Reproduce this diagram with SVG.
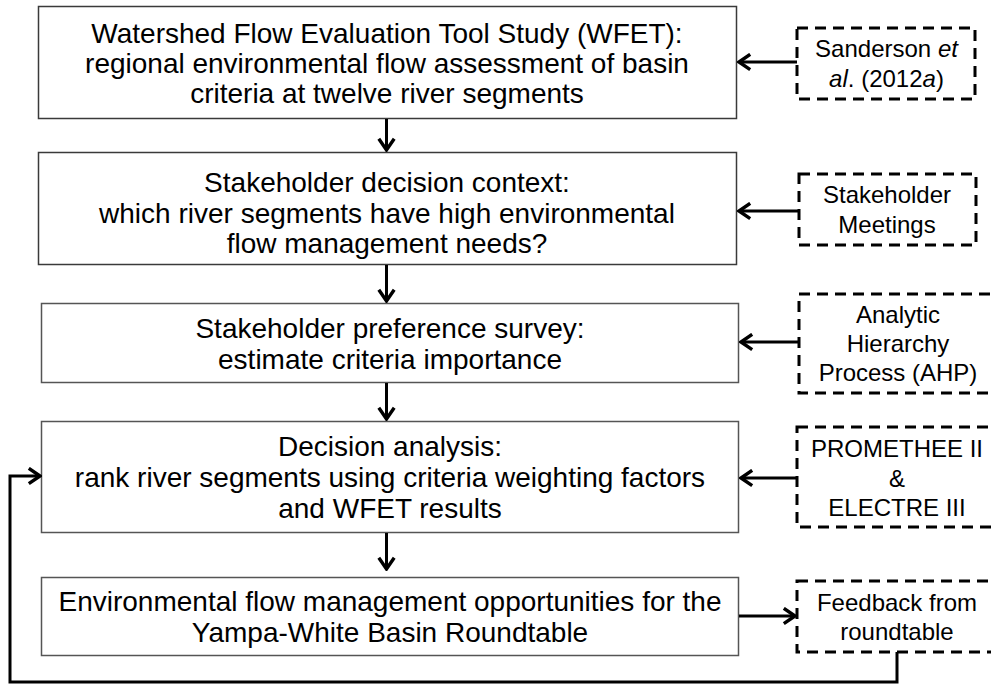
<svg xmlns="http://www.w3.org/2000/svg" width="991" height="686" viewBox="0 0 991 686">
<style>
text{font-family:"Liberation Sans",Arial,sans-serif;fill:#000;text-anchor:middle}
.m{font-size:28px}
.s{font-size:24px}
.box{fill:#fff;stroke:#3a3a3a;stroke-width:1.5}
.box2{fill:#fff;stroke:#555;stroke-width:1.5}
.dash{fill:#fff;stroke:#000;stroke-width:3;stroke-dasharray:11 7}
.c{fill:none;stroke:#000;stroke-width:3}
</style>
<defs>
<marker id="ah" viewBox="0 0 15 19" refX="13" refY="9.5" markerWidth="15" markerHeight="19" markerUnits="userSpaceOnUse" orient="auto">
<path d="M1.8,1.8 L13,9.5 L1.8,17.2" fill="none" stroke="#000" stroke-width="3.4"/>
</marker>
</defs>
<rect width="991" height="686" fill="#fff"/>
<g id="n1">
<rect class="box" x="38.5" y="6.5" width="698" height="112"/>
<text class="m" x="387" y="43">Watershed Flow Evaluation Tool Study (WFET):</text>
<text class="m" x="387" y="73">regional environmental flow assessment of basin</text>
<text class="m" x="387" y="103">criteria at twelve river segments</text>
</g>
<g id="n2">
<rect class="box" x="38.5" y="152.5" width="698" height="112"/>
<text class="m" x="387" y="191.5">Stakeholder decision context:</text>
<text class="m" x="387" y="222.5">which river segments have high environmental</text>
<text class="m" x="387" y="253">flow management needs?</text>
</g>
<g id="n3">
<rect class="box2" x="41.5" y="303.5" width="697" height="79"/>
<text class="m" x="390" y="338">Stakeholder preference survey:</text>
<text class="m" x="390" y="368.5">estimate criteria importance</text>
</g>
<g id="n4">
<rect class="box2" x="41.5" y="421.5" width="697" height="111"/>
<text class="m" x="390" y="456">Decision analysis:</text>
<text class="m" x="390" y="487">rank river segments using criteria weighting factors</text>
<text class="m" x="390" y="517.5">and WFET results</text>
</g>
<g id="n5">
<rect class="box2" x="41.5" y="577.5" width="697" height="78"/>
<text class="m" x="390" y="611">Environmental flow management opportunities for the</text>
<text class="m" x="390" y="641.5">Yampa-White Basin Roundtable</text>
</g>
<g id="s1">
<rect class="dash" x="797" y="28" width="178" height="71"/>
<text class="s" x="886.5" y="57">Sanderson <tspan font-style="italic">et</tspan></text>
<text class="s" x="886.5" y="87"><tspan font-style="italic">al</tspan>. (2012<tspan font-style="italic">a</tspan>)</text>
</g>
<g id="s2">
<rect class="dash" x="799" y="174" width="177" height="71"/>
<text class="s" x="887" y="203">Stakeholder</text>
<text class="s" x="887" y="233">Meetings</text>
</g>
<g id="s3">
<rect class="dash" x="799" y="294" width="198" height="99"/>
<text class="s" x="898" y="323">Analytic</text>
<text class="s" x="898" y="352">Hierarchy</text>
<text class="s" x="898" y="381">Process (AHP)</text>
</g>
<g id="s4">
<rect class="dash" x="797" y="427" width="200" height="100"/>
<text class="s" x="897" y="457">PROMETHEE II</text>
<text class="s" x="897" y="487">&amp;</text>
<text class="s" x="897" y="516">ELECTRE III</text>
</g>
<g id="s5">
<rect class="dash" x="797" y="581" width="200" height="71"/>
<text class="s" x="897" y="611">Feedback from</text>
<text class="s" x="897" y="640">roundtable</text>
</g>
<g id="connectors">
<line class="c" x1="386.5" y1="119" x2="386.5" y2="150" marker-end="url(#ah)"/>
<line class="c" x1="386.5" y1="265" x2="386.5" y2="301" marker-end="url(#ah)"/>
<line class="c" x1="386.5" y1="383" x2="386.5" y2="419" marker-end="url(#ah)"/>
<line class="c" x1="386.5" y1="533" x2="386.5" y2="569" marker-end="url(#ah)"/>
<line class="c" x1="797" y1="62" x2="739" y2="62" marker-end="url(#ah)"/>
<line class="c" x1="799" y1="211" x2="739" y2="211" marker-end="url(#ah)"/>
<line class="c" x1="799" y1="342" x2="741" y2="342" marker-end="url(#ah)"/>
<line class="c" x1="797" y1="478" x2="741" y2="478" marker-end="url(#ah)"/>
<line class="c" x1="739" y1="616" x2="795" y2="616" marker-end="url(#ah)"/>
<polyline class="c" points="897,652 897,682 10,682 10,476 40,476" marker-end="url(#ah)"/>
</g>
</svg>
